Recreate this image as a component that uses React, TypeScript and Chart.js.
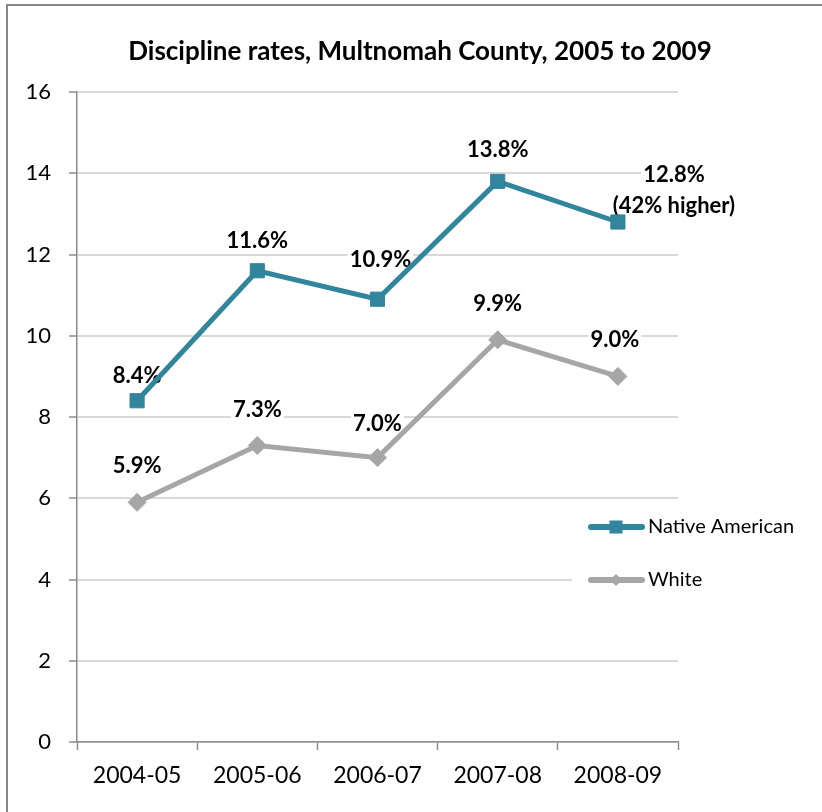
import React, { useEffect, useRef } from "react";
import { Chart, registerables } from "chart.js";

Chart.register(...registerables);

const TITLE = "Discipline rates, Multnomah County, 2005 to 2009";
const categories = ["2004-05", "2005-06", "2006-07", "2007-08", "2008-09"];
const seriesNames = ["Native American", "White"];
const nativeAmerican = [8.4, 11.6, 10.9, 13.8, 12.8];
const white = [5.9, 7.3, 7.0, 9.9, 9.0];
const nativeLabels = ["8.4%", "11.6%", "10.9%", "13.8%", "12.8%\n(42% higher)"];
const whiteLabels = ["5.9%", "7.3%", "7.0%", "9.9%", "9.0%"];
const yMin = 0;
const yMax = 16;
const yStep = 2;

// label placement (style, not data)
const nativeLabelOffsets = [
  [0, -25],
  [0, -30],
  [3, -39],
  [0, -31],
  [56, -32],
];
const whiteLabelOffsets = [
  [0, -36],
  [0, -36],
  [0, -34],
  [0, -36],
  [-3, -36],
];

const TEAL = "#31859C";
const GRAY = "#A6A6A6";
const FONT = "Lato, 'Open Sans', sans-serif";

export default function App() {
  const ref = useRef<HTMLCanvasElement | null>(null);

  useEffect(() => {
    if (!ref.current) return;
    const labelSets = [nativeLabels, whiteLabels];
    const offsetSets = [nativeLabelOffsets, whiteLabelOffsets];

    const deco = {
      id: "deco",
      beforeDraw(chart: any) {
        const ctx = chart.ctx;
        ctx.save();
        ctx.fillStyle = "#fff";
        ctx.fillRect(0, 0, chart.width, chart.height);
        ctx.strokeStyle = "#868686";
        ctx.lineWidth = 2;
        ctx.strokeRect(7, 5, 900, 900);
        ctx.fillStyle = "#000";
        ctx.font = `bold 26px ${FONT}`;
        ctx.textAlign = "center";
        ctx.textBaseline = "middle";
        ctx.fillText(TITLE, 420, 52);
        ctx.restore();
      },
      beforeDatasetsDraw(chart: any) {
        const ctx = chart.ctx;
        ctx.save();
        ctx.font = `bold 22px ${FONT}`;
        ctx.textAlign = "center";
        ctx.textBaseline = "middle";
        chart.data.datasets.forEach((ds: any, di: number) => {
          const meta = chart.getDatasetMeta(di);
          meta.data.forEach((pt: any, i: number) => {
            const lines = String(labelSets[di][i]).split("\n");
            const [dx, dy] = offsetSets[di][i];
            const lh = 31;
            const cx = pt.x + dx;
            const cy = pt.y + dy - ((lines.length - 1) * lh) / 2;
            lines.forEach((ln, li) => {
              const w = ctx.measureText(ln).width;
              ctx.fillStyle = "#fff";
              ctx.fillRect(cx - w / 2 - 2, cy + li * lh - 12, w + 4, 24);
            });
            ctx.fillStyle = "#000";
            lines.forEach((ln, li) => {
              ctx.fillText(ln, cx, cy + li * lh);
            });
          });
        });
        ctx.restore();
      },
      afterDraw(chart: any) {
        const ctx = chart.ctx;
        ctx.save();
        ctx.fillStyle = "#fff";
        ctx.fillRect(572, 505, 250, 95);
        const ys = [527, 580];
        chart.data.datasets.forEach((ds: any, di: number) => {
          const y = ys[di];
          ctx.strokeStyle = ds.borderColor;
          ctx.lineWidth = 6;
          ctx.lineCap = "round";
          ctx.beginPath();
          ctx.moveTo(591, y);
          ctx.lineTo(642, y);
          ctx.stroke();
          ctx.fillStyle = ds.backgroundColor;
          const cx = 616;
          if (ds.pointStyle === "rect") {
            ctx.fillRect(cx - 6.5, y - 6.5, 13, 13);
          } else {
            ctx.beginPath();
            ctx.moveTo(cx, y - 6);
            ctx.lineTo(cx + 6, y);
            ctx.lineTo(cx, y + 6);
            ctx.lineTo(cx - 6, y);
            ctx.closePath();
            ctx.fill();
          }
          ctx.fillStyle = "#000";
          ctx.font = `20px ${FONT}`;
          ctx.textAlign = "left";
          ctx.textBaseline = "middle";
          ctx.fillText(ds.label, 648, y);
        });
        ctx.restore();
      },
    };

    const chart = new Chart(ref.current, {
      type: "line",
      data: {
        labels: categories,
        datasets: [
          {
            label: seriesNames[0],
            data: nativeAmerican,
            borderColor: TEAL,
            backgroundColor: TEAL,
            borderWidth: 5,
            pointStyle: "rect",
            pointRadius: 10,
            pointBorderWidth: 1,
            pointBorderColor: TEAL,
            pointBackgroundColor: TEAL,
            tension: 0,
          },
          {
            label: seriesNames[1],
            data: white,
            borderColor: GRAY,
            backgroundColor: GRAY,
            borderWidth: 5,
            pointStyle: "rectRot",
            pointRadius: 9,
            pointBorderWidth: 1,
            pointBorderColor: GRAY,
            pointBackgroundColor: GRAY,
            tension: 0,
          },
        ],
      },
      options: {
        animation: false,
        responsive: true,
        maintainAspectRatio: false,
        layout: { padding: { top: 92, right: 144, left: 0, bottom: 0 } },
        plugins: {
          legend: { display: false },
          title: { display: false },
          tooltip: { enabled: false },
        },
        scales: {
          x: {
            type: "category",
            offset: true,
            grid: {
              display: true,
              offset: true,
              drawOnChartArea: false,
              drawTicks: true,
              tickLength: 8,
              tickColor: "#8c8c8c",
              tickWidth: 1.5,
            },
            border: { color: "#8c8c8c", width: 1.5 },
            ticks: {
              color: "#000",
              font: { family: FONT, size: 23 },
              padding: 12,
              maxRotation: 0,
            },
            afterFit: (s: any) => {
              s.height = 70;
            },
          },
          y: {
            min: yMin,
            max: yMax,
            ticks: {
              stepSize: yStep,
              color: "#000",
              font: { family: FONT, size: 22 },
              padding: 18,
            },
            grid: {
              color: "#d9d9d9",
              lineWidth: 2,
              tickLength: 8,
              tickColor: "#8c8c8c",
              tickWidth: 1.5,
            },
            border: { color: "#8c8c8c", width: 1.5 },
            afterFit: (s: any) => {
              s.width = 77;
            },
          },
        },
      },
      plugins: [deco],
    } as any);

    return () => chart.destroy();
  }, []);

  return (
    <div style={{ position: "fixed", left: 0, top: 0, width: 822, height: 812 }}>
      <canvas ref={ref} />
    </div>
  );
}
